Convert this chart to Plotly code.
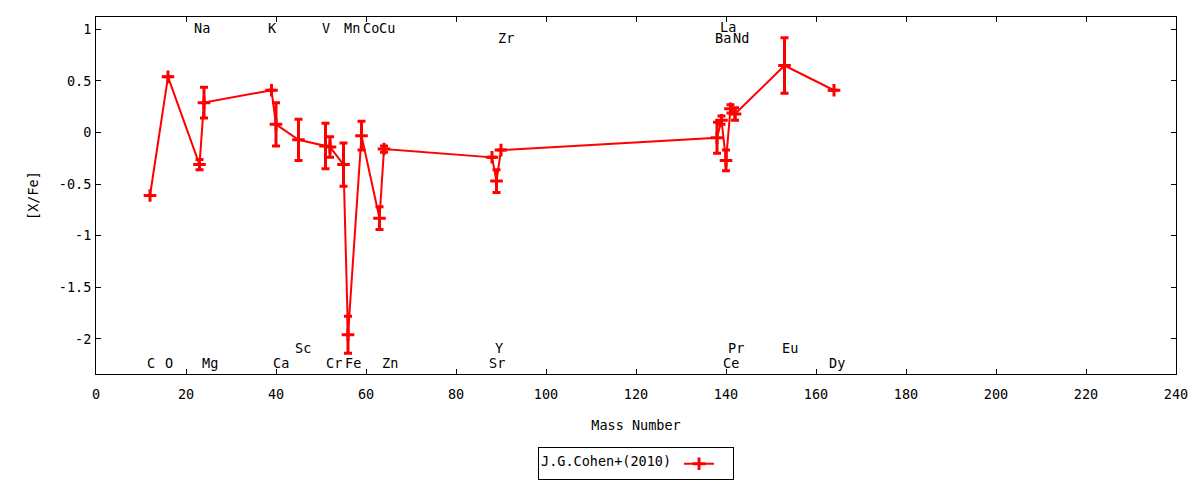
import plotly.graph_objects as go

# abundances (Cohen et al. 2010)
elements = ["C", "O", "Na", "Mg", "K", "Ca", "Sc", "V", "Cr", "Mn", "Fe", "Co",
            "Cu", "Zn", "Sr", "Y", "Zr", "Ba", "La", "Ce", "Pr", "Nd", "Eu", "Dy"]
mass_number = [12, 16, 23, 24, 39, 40, 45, 51, 52, 55, 56, 59,
               63, 64, 88, 89, 90, 138, 139, 140, 141, 142, 153, 164]
x_fe = [-0.61, 0.54, -0.31, 0.29, 0.41, 0.08, -0.07, -0.13, -0.14, -0.31, -1.96, -0.03,
        -0.83, -0.16, -0.24, -0.47, -0.17, -0.05, 0.12, -0.27, 0.23, 0.18, 0.65, 0.41]
x_fe_err = [0, 0, 0.05, 0.15, 0, 0.21, 0.20, 0.22, 0.10, 0.21, 0.18, 0.14,
            0.11, 0.03, 0, 0.11, 0, 0.15, 0.04, 0.10, 0.04, 0.06, 0.27, 0]

# element name labels as placed in the reference
label_text = ["C", "O", "Na", "Mg", "K", "Ca", "Sc", "V", "Cr", "Mn", "Fe", "Co",
              "Cu", "Zn", "Sr", "Y", "Zr", "Ba", "La", "Ce", "Pr", "Nd", "Eu", "Dy"]
label_x = [12.3, 16.3, 23.6, 25.3, 39.2, 41.2, 46.0, 51.2, 52.9, 56.8, 57.1, 61.0,
           64.7, 65.3, 89.1, 89.6, 91.2, 139.3, 140.4, 141.2, 142.3, 143.3, 154.3, 164.7]
label_y = [-2.23, -2.23, 1.01, -2.23, 1.01, -2.23, -2.09, 1.01, -2.23, 1.01, -2.23, 1.01,
           1.01, -2.23, -2.23, -2.09, 0.92, 0.92, 1.02, -2.23, -2.09, 0.92, -2.09, -2.23]

x_ticks = list(range(0, 241, 20))
y_ticks = [-2, -1.5, -1, -0.5, 0, 0.5, 1]
y_tick_text = ["-2", "-1.5", "-1", "-0.5", "0", "0.5", "1"]

font = dict(family="DejaVu Sans Mono", size=13.5, color="black")

fig = go.Figure()
fig.add_trace(go.Scatter(
    x=mass_number,
    y=x_fe,
    error_y=dict(type="data", array=x_fe_err, color="red", thickness=3, width=4),
    mode="lines+markers",
    line=dict(color="red", width=2),
    marker=dict(symbol="cross-thin", size=9, color="red",
                line=dict(color="red", width=3)),
    name=" ",
    hovertext=elements,
))

for name, lx, ly in zip(label_text, label_x, label_y):
    fig.add_annotation(x=lx, y=ly, text=name, showarrow=False,
                       xanchor="center", yanchor="middle", font=font)

axis_style = dict(
    showline=True, linecolor="black", linewidth=1, mirror="ticks",
    ticks="inside", ticklen=5, tickcolor="black",
    showgrid=False, zeroline=False, tickfont=font, automargin=False,
)

fig.update_xaxes(range=[0, 240], tickvals=x_ticks, ticklabelstandoff=8,
                 title=dict(text="Mass Number", font=font, standoff=19), **axis_style)
fig.update_yaxes(range=[-2.34, 1.12], tickvals=y_ticks, ticktext=y_tick_text,
                 ticklabelstandoff=1,
                 title=dict(text="[X/Fe]", font=font, standoff=17), **axis_style)

# the page body adds an 8px offset, so margins are shifted by that amount
fig.update_layout(
    width=1200, height=480,
    margin=dict(l=88, r=32, t=9, b=113),
    paper_bgcolor="white", plot_bgcolor="white",
    font=font,
    showlegend=True,
    legend=dict(
        orientation="h", x=0.5, xanchor="center", y=-0.2486, yanchor="middle",
        bordercolor="black", borderwidth=1, bgcolor="white",
        title=dict(text="J.G.Cohen+(2010)", side="left", font=font),
        font=font,
    ),
)

fig.write_html("out.html")
